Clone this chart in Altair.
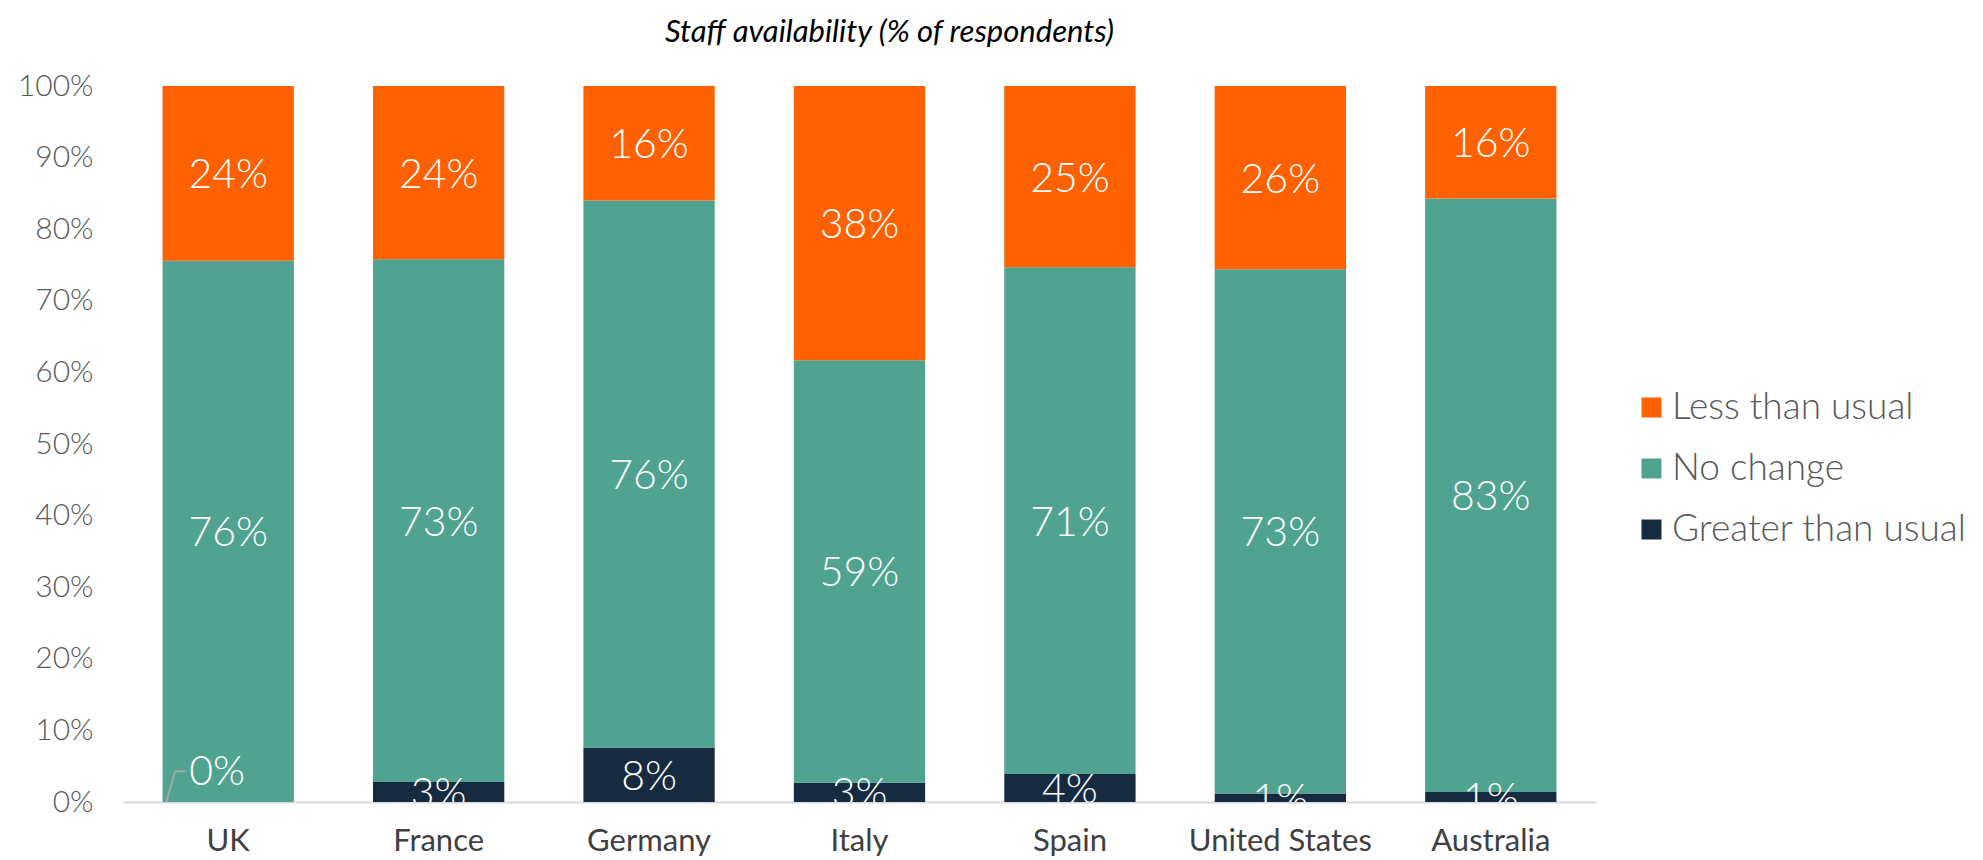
import altair as alt
import pandas as pd

countries = ["UK", "France", "Germany", "Italy", "Spain", "United States", "Australia"]
categories = ["Less than usual", "No change", "Greater than usual"]
colors = ["#FF6100", "#50A391", "#172B40"]

greater = [0.0, 2.8, 7.6, 2.7, 3.9, 1.2, 1.4]
nochange = [75.6, 73.0, 76.4, 59.0, 70.8, 73.2, 82.9]
less = [24.4, 24.2, 16.0, 38.3, 25.3, 25.6, 15.7]

greater_lbl = ["0%", "3%", "8%", "3%", "4%", "1%", "1%"]
nochange_lbl = ["76%", "73%", "76%", "59%", "71%", "73%", "83%"]
less_lbl = ["24%", "24%", "16%", "38%", "25%", "26%", "16%"]

y_ticks = [0, 10, 20, 30, 40, 50, 60, 70, 80, 90, 100]

rows = []
for i, c in enumerate(countries):
    start = 0.0
    for cat, vals, lbls, order in [
        ("Greater than usual", greater, greater_lbl, 0),
        ("No change", nochange, nochange_lbl, 1),
        ("Less than usual", less, less_lbl, 2),
    ]:
        v = vals[i]
        rows.append({
            "country": c, "category": cat, "value": v, "order": order,
            "start": start, "end": start + v, "mid": start + v / 2,
            "label": lbls[i],
        })
        start += v
df = pd.DataFrame(rows)

bar_df = df
txt_df = df[df["value"] > 0]
# UK "0%" label sits beside a leader line
zero_df = pd.DataFrame({"country": ["UK"], "label": ["0%"], "y": [4.3], "y0": [0.0]})

FONT = "Lato"
LBL_SIZE = 41
x_enc = alt.X("country:N", sort=countries, title=None,
              scale=alt.Scale(paddingInner=0.376, paddingOuter=0.188),
              axis=alt.Axis(labelAngle=0, labelFont=FONT, labelFontSize=31,
                            labelFontWeight=400, labelColor="#404040",
                            ticks=False, labelPadding=24, domainColor="#D9D9D9",
                            domainWidth=2, labelLimit=400))

bars = alt.Chart(bar_df).mark_bar().encode(
    x=x_enc,
    y=alt.Y("start:Q", title=None,
            scale=alt.Scale(domain=[0, 100], nice=False),
            axis=alt.Axis(values=y_ticks, labelExpr="datum.value + '%'",
                          labelFont=FONT, labelFontSize=30, labelFontWeight=300,
                          labelColor="#595959", ticks=False, domain=False,
                          grid=False, labelPadding=30)),
    y2="end:Q",
    color=alt.Color("category:N",
                    scale=alt.Scale(domain=categories, range=colors),
                    legend=alt.Legend(title=None, orient="none", legendX=1510,
                                      legendY=303, symbolType="square",
                                      symbolSize=400, symbolStrokeWidth=0,
                                      labelFont=FONT, labelFontSize=37,
                                      labelFontWeight=300, labelColor="#595959",
                                      labelOffset=2, rowPadding=23,
                                      labelLimit=400)),
)

texts = alt.Chart(txt_df).mark_text(
    color="white", font=FONT, fontSize=LBL_SIZE, fontWeight=300, baseline="middle",
    clip=True, dy=3,
).encode(
    x=alt.X("country:N", sort=countries),
    y=alt.Y("mid:Q"),
    text="label:N",
)

zero_text = alt.Chart(zero_df).mark_text(
    color="white", font=FONT, fontSize=LBL_SIZE, fontWeight=300, baseline="middle",
    xOffset=-11, dy=2,
).encode(x=alt.X("country:N", sort=countries), y="y:Q", text="label:N")

leader1 = alt.Chart(zero_df).mark_rule(
    color="#A6A6A6", strokeWidth=2, xOffset=-62, x2Offset=-53,
).encode(x=alt.X("country:N", sort=countries), x2="country:N", y="y0:Q", y2="y:Q")

leader2 = alt.Chart(zero_df).mark_rule(
    color="#A6A6A6", strokeWidth=2, xOffset=-53, x2Offset=-42,
).encode(x=alt.X("country:N", sort=countries), x2="country:N", y="y:Q", y2="y:Q")

chart = alt.layer(bars, texts, leader1, leader2, zero_text).properties(
    width=1473, height=716,
    autosize=alt.AutoSizeParams(type="none"),
    padding={"left": 115, "top": 78, "right": 379, "bottom": 66},
    title=alt.TitleParams("Staff availability (% of respondents)", font=FONT,
                          fontSize=31, fontStyle="italic", fontWeight=400,
                          color="#000000", anchor="middle", dx=30, offset=22),
).configure_view(stroke=None)

chart.save("out.html", embed_options={"renderer": "svg", "actions": False})
